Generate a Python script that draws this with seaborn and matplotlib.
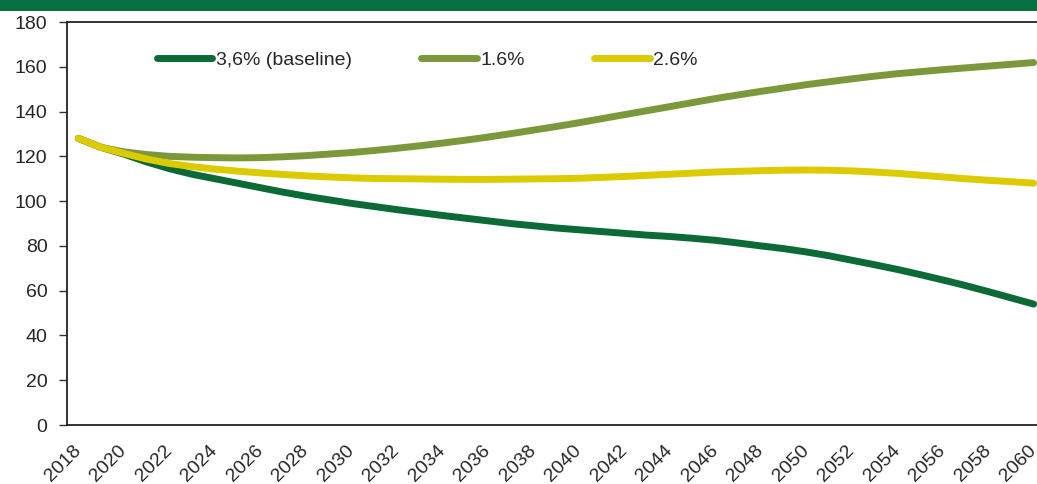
import numpy as np
import pandas as pd
import matplotlib
matplotlib.use("Agg")
import matplotlib.pyplot as plt
from matplotlib.patches import Rectangle
from matplotlib.ticker import FixedLocator, NullFormatter
import seaborn as sns

# --- dati ---
anni = list(range(2018, 2061))

baseline_36 = [128, 124, 121, 117.5, 114.5, 112, 110, 108, 106, 104, 102.2, 100.6, 99,
               97.6, 96.2, 94.9, 93.6, 92.4, 91.2, 90, 89, 88, 87.2, 86.4, 85.6, 84.8,
               84.2, 83.4, 82.5, 81.3, 80, 78.8, 77.3, 75.6, 73.6, 71.6, 69.5, 67.2,
               64.8, 62.3, 59.6, 56.8, 54]

scenario_16 = [128, 124, 122, 120.8, 120, 119.6, 119.4, 119.3, 119.4, 119.8, 120.3, 121,
               121.7, 122.6, 123.6, 124.7, 125.9, 127.2, 128.6, 130.1, 131.7, 133.3, 135,
               136.8, 138.6, 140.4, 142.2, 144, 145.8, 147.4, 149, 150.5, 152, 153.3,
               154.6, 155.8, 156.9, 157.8, 158.7, 159.5, 160.3, 161.1, 161.9]

scenario_26 = [128, 124, 121.3, 118.8, 116.8, 115.4, 114.3, 113.4, 112.6, 111.9, 111.3,
               110.8, 110.4, 110.1, 110, 109.9, 109.8, 109.7, 109.7, 109.8, 109.9, 110,
               110.2, 110.6, 111, 111.5, 112, 112.5, 113, 113.3, 113.6, 113.8, 113.9,
               113.8, 113.5, 113, 112.4, 111.6, 110.8, 110, 109.3, 108.7, 108]

serie = ["3,6% (baseline)", "1.6%", "2.6%"]
colori = ["#0b6a36", "#7b993b", "#dccb00"]
etichette_y = [0, 20, 40, 60, 80, 100, 120, 140, 160, 180]

df = pd.DataFrame({"Anno": anni * 3,
                   "Valore": baseline_36 + scenario_16 + scenario_26,
                   "Scenario": [serie[0]] * len(anni) + [serie[1]] * len(anni) + [serie[2]] * len(anni)})

sns.set_style("white")
plt.rcParams["font.family"] = ["Liberation Sans", "DejaVu Sans"]

fig = plt.figure(figsize=(10.37, 4.84), dpi=100)
ax = fig.add_axes([67 / 1037, 59 / 484, (1045 - 67) / 1037, 403 / 484])

sns.lineplot(data=df, x="Anno", y="Valore", hue="Scenario", hue_order=serie,
             palette=dict(zip(serie, colori)), linewidth=5, ax=ax)
for ln in ax.get_lines():
    ln.set_solid_capstyle("round")

handles, labels = ax.get_legend_handles_labels()
for h in handles:
    h.set_linewidth(5)
    h.set_solid_capstyle("round")
ax.legend(handles, labels, ncol=3, frameon=False, loc="center left",
          bbox_to_anchor=(0.092, 0.906), fontsize=14, handlelength=2.85,
          handletextpad=0.2, columnspacing=3.55, borderaxespad=0, borderpad=0)

# asse x: categorie annuali, tacche ai bordi, etichette ogni due anni
# (etichette ruotate leggermente spostate a sinistra come in Excel)
ax.set_xlim(2017.5, 2060.5)
ax.set_xticks([a - 0.26 for a in anni[::2]])
ax.set_xticklabels([str(a) for a in anni[::2]], rotation=45, ha="right",
                   rotation_mode="anchor", fontsize=14)
ax.xaxis.set_minor_locator(FixedLocator(np.arange(2017.5, 2061, 1)))
ax.xaxis.set_minor_formatter(NullFormatter())
ax.tick_params(axis="x", which="major", length=0, pad=12)
ax.tick_params(axis="x", which="minor", length=5, width=1, color="#333333", direction="out")

ax.set_ylim(0, 180)
ax.set_yticks(etichette_y)
ax.tick_params(axis="y", length=6, width=1, color="#333333", direction="out",
               labelsize=14, pad=8, left=True)

ax.set_xlabel("")
ax.set_ylabel("")
ax.grid(False)
for lato in ["left", "bottom", "top"]:
    ax.spines[lato].set_color("#222222")
    ax.spines[lato].set_linewidth(1.3)
ax.spines["right"].set_visible(False)

# fascia verde in alto (titolo tagliato)
fig.patches.append(Rectangle((0, 1 - 11 / 484), 1, 11 / 484, transform=fig.transFigure,
                             facecolor="#087043", edgecolor="none"))

fig.savefig("out.png", dpi=100)
